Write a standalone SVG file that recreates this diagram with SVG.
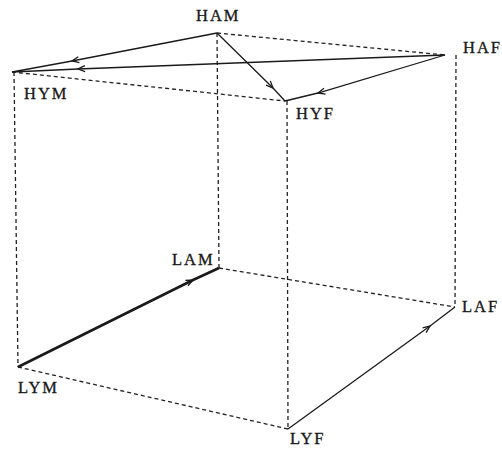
<svg xmlns="http://www.w3.org/2000/svg" width="502" height="450" viewBox="0 0 502 450">
<style>
.d{fill:none;stroke:#222;stroke-width:1.3;stroke-dasharray:4,3}
.s{fill:none;stroke:#1a1a1a;stroke-width:1.3}
.t{font-family:"Liberation Serif","DejaVu Serif",serif;font-size:16.5px;fill:#1a1a1a;stroke:#1a1a1a;stroke-width:0.35;letter-spacing:2px}
</style>
<defs>
<marker id="a" viewBox="-8 -5 10 10" markerWidth="10" markerHeight="10" refX="0" refY="0" orient="auto" markerUnits="userSpaceOnUse">
<path d="M-7,-3 L0,0 L-7,3" fill="none" stroke="#1a1a1a" stroke-width="1.3"/>
</marker>
</defs>
<rect width="502" height="450" fill="#fff"/>
<g id="connectors">
<path class="d" d="M217,33 L445,55"/>
<path class="d" d="M12,72 L285,101"/>
<path class="d" d="M217,33 L219,268"/>
<path class="d" d="M14,72 L18,367"/>
<path class="d" d="M287,101 L288,429"/>
<path class="d" d="M456,55 L455,307"/>
<path class="d" d="M219,268 L455,307"/>
<path class="d" d="M18,367 L288,429"/>
<path class="s" d="M217,33 L72,61 L12,72" marker-mid="url(#a)"/>
<path class="s" d="M445,55 L78,69 L12,72" marker-mid="url(#a)"/>
<path class="s" d="M217,33 L273,88 L285,101" marker-mid="url(#a)"/>
<path class="s" d="M445,55 L318,93 L285,101" marker-mid="url(#a)"/>
<path class="s" style="stroke-width:2.6" d="M18,367 L193,280 L219,268" marker-mid="url(#a)"/>
<path class="s" d="M288,429 L430,326 L455,307" marker-mid="url(#a)"/>
</g>
<g id="HAM"><text class="t" x="196" y="21">HAM</text></g>
<g id="HAF"><text class="t" x="463" y="53">HAF</text></g>
<g id="HYM"><text class="t" x="24" y="99">HYM</text></g>
<g id="HYF"><text class="t" x="296" y="119">HYF</text></g>
<g id="LAM"><text class="t" x="172" y="265">LAM</text></g>
<g id="LAF"><text class="t" x="462" y="312">LAF</text></g>
<g id="LYM"><text class="t" x="18" y="393">LYM</text></g>
<g id="LYF"><text class="t" x="290" y="444">LYF</text></g>
</svg>
